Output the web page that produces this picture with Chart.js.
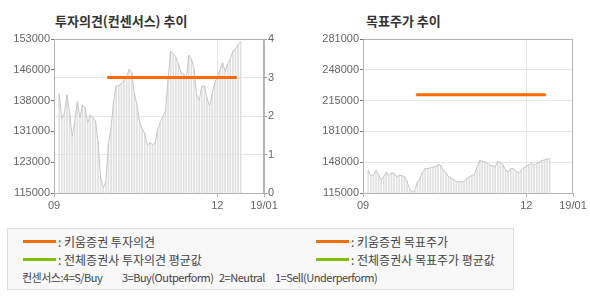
<!DOCTYPE html>
<html>
<head>
<meta charset="utf-8">
<script src="https://cdn.jsdelivr.net/npm/chart.js@4"></script>
<style>
body { margin: 0; background: #fff; width: 590px; height: 300px; position: relative; overflow: hidden; font-family: "Noto Sans CJK KR", sans-serif; }
.title { position: absolute; top: 11px; font-size: 13px; font-weight: bold; color: #333; }
canvas { position: absolute; top: 0; }
.legend { position: absolute; left: 7px; top: 228px; width: 505px; height: 60px; border: 1px solid #ddd; background: #f8f8f8; font-size: 12px; color: #444; }
.item { position: absolute; height: 16px; line-height: 16px; white-space: pre; }
.item i { position: absolute; left: 0; top: 6px; width: 33px; height: 3px; }
.item span { position: absolute; left: 35px; top: 0; }
.note { position: absolute; top: 41px; font-size: 11px; line-height: 14px; white-space: pre; color: #444; letter-spacing: -0.5px; }
</style>
</head>
<body>
<div class="title" style="left:55px">투자의견(컨센서스) 추이</div>
<div class="title" style="left:366px">목표주가 추이</div>
<canvas id="opinionChart" width="290" height="215" style="left:0"></canvas>
<canvas id="targetChart" width="290" height="215" style="left:300px"></canvas>
<div class="legend">
  <div class="item" style="left:15px;top:5px"><i style="background:#f07000"></i><span>: 키움증권 투자의견</span></div>
  <div class="item" style="left:15px;top:23px"><i style="background:#80c000"></i><span>: 전체증권사 투자의견 평균값</span></div>
  <div class="item" style="left:308px;top:5px"><i style="background:#f07000"></i><span>: 키움증권 목표주가</span></div>
  <div class="item" style="left:308px;top:23px"><i style="background:#80c000"></i><span>: 전체증권사 목표주가 평균값</span></div>
  <div class="note" style="left:14px">컨센서스:4=S/Buy</div>
  <div class="note" style="left:114px">3=Buy(Outperform)</div>
  <div class="note" style="left:211px">2=Neutral</div>
  <div class="note" style="left:267px">1=Sell(Underperform)</div>
</div>
<script>
// x axis: trading day index, Sep 2018 .. Jan 2019
var xTickPos = [0, 63, 81];
var xLabels = ['09', '12', '19/01'];
var firstDay = 2;

// 주가 (daily close)
var price = [139400, 133400, 134570, 139200, 134800, 129000, 132500, 137500, 133600, 136700,
    136100, 132300, 134200, 133600, 132770, 127500, 118630, 116300, 117700, 127000,
    131100, 137500, 141400, 141500, 142000, 142800, 143700, 145500, 144700, 139400,
    136800, 132500, 130800, 129700, 126800, 127400, 126900, 127300, 130700, 132400,
    133900, 135200, 143000, 149870, 149300, 148500, 146800, 144850, 144400, 143000,
    149000, 148000, 145600, 139180, 137900, 141300, 141400, 138400, 136500, 139500,
    142100, 143700, 145350, 147100, 145000, 146900, 148000, 150000, 150600, 151500, 152300];

// 키움증권 투자의견 / 목표주가
var opinionSeries = [{ x: 20.5, y: 3 }, { x: 70.5, y: 3 }];
var targetSeries = [{ x: 20.5, y: 221000 }, { x: 70.5, y: 221000 }];

// left chart tick labels
var priceTickVals = [115000, 122600, 130200, 137800, 145400, 153000];
var priceTickLabels = ['115000', '123000', '131000', '138000', '146000', '153000'];
var opinionTicks = [0, 1, 2, 3, 4];

// right chart tick labels
var targetTickVals = [115000, 148200, 181400, 214600, 247800, 281000];
var targetTickLabels = ['115000', '148000', '181000', '215000', '248000', '281000'];

var priceData = price.map(function (v, k) { return { x: firstDay + k, y: v }; });

var tickFont = { family: 'Liberation Sans, Arial, sans-serif', size: 11 };
var tickColor = '#666';

// top / right frame of the plot
var frame = {
    id: 'frame',
    beforeDatasetsDraw: function (chart) {
        var a = chart.chartArea, c = chart.ctx;
        c.save();
        c.strokeStyle = '#b4b4b4';
        c.lineWidth = 1;
        c.beginPath();
        c.moveTo(a.left, a.top + 0.5);
        c.lineTo(a.right, a.top + 0.5);
        c.moveTo(a.right - 0.5, a.top);
        c.lineTo(a.right - 0.5, a.bottom);
        c.stroke();
        c.restore();
    }
};

function xScale() {
    return {
        type: 'linear',
        min: 0,
        max: 81,
        offset: false,
        afterBuildTicks: function (s) { s.ticks = xTickPos.map(function (v) { return { value: v }; }); },
        afterFit: function (s) { s.height = 22; },
        ticks: {
            autoSkip: false, maxRotation: 0, padding: 2, color: tickColor, font: tickFont,
            callback: function (v) { return xLabels[xTickPos.indexOf(v)]; }
        },
        grid: {
            offset: false,
            color: function (ctx) { return ctx.tick && ctx.tick.value === 63 ? '#e2e2e2' : 'rgba(0,0,0,0)'; },
            tickColor: '#b4b4b4',
            tickLength: 4
        },
        border: { color: '#b4b4b4' }
    };
}

function priceSets(axis) {
    return [{
        type: 'line',
        data: priceData,
        yAxisID: axis,
        borderColor: '#c6c6c6',
        borderWidth: 1,
        pointRadius: 0,
        tension: 0,
        order: 2
    }, {
        type: 'bar',
        data: priceData,
        yAxisID: axis,
        backgroundColor: '#e0e0e0',
        barThickness: 1,
        order: 3
    }];
}

document.addEventListener("DOMContentLoaded", function () {
    var ctx = document.getElementById('opinionChart').getContext('2d');
    var chart = new Chart(ctx, {
        type: 'line',
        data: {
            datasets: priceSets('yP').concat([{
                type: 'line',
                data: opinionSeries,
                yAxisID: 'yO',
                borderColor: '#ff6a00',
                borderWidth: 3,
                pointRadius: 0,
                order: 1
            }])
        },
        options: {
            responsive: false,
            animation: false,
            devicePixelRatio: 1,
            layout: { padding: { top: 39, left: 0, right: 0, bottom: 0 } },
            plugins: { legend: { display: false }, tooltip: { enabled: false } },
            scales: {
                x: xScale(),
                yP: {
                    position: 'left',
                    min: 115000,
                    max: 153000,
                    afterBuildTicks: function (s) { s.ticks = priceTickVals.map(function (v) { return { value: v }; }); },
                    afterFit: function (s) { s.width = 54; },
                    ticks: {
                        padding: 1, color: tickColor, font: tickFont,
                        callback: function (v) { return priceTickLabels[priceTickVals.indexOf(v)]; }
                    },
                    grid: { drawOnChartArea: false, tickColor: '#777', tickLength: 3 },
                    border: { color: '#b4b4b4' }
                },
                yO: {
                    position: 'right',
                    min: 0,
                    max: 4,
                    afterBuildTicks: function (s) { s.ticks = opinionTicks.map(function (v) { return { value: v }; }); },
                    afterFit: function (s) { s.width = 26; },
                    ticks: { padding: 1, color: tickColor, font: tickFont },
                    grid: { color: '#e6e6e6', tickColor: '#999', tickLength: 3 },
                    border: { color: '#b4b4b4' }
                }
            }
        },
        plugins: [frame]
    });
});

document.addEventListener("DOMContentLoaded", function () {
    var ctx = document.getElementById('targetChart').getContext('2d');
    var chart = new Chart(ctx, {
        type: 'line',
        data: {
            datasets: priceSets('y').concat([{
                type: 'line',
                data: targetSeries,
                yAxisID: 'y',
                borderColor: '#ff6a00',
                borderWidth: 3,
                pointRadius: 0,
                order: 1
            }])
        },
        options: {
            responsive: false,
            animation: false,
            devicePixelRatio: 1,
            layout: { padding: { top: 39, left: 0, right: 17, bottom: 0 } },
            plugins: { legend: { display: false }, tooltip: { enabled: false } },
            scales: {
                x: xScale(),
                y: {
                    position: 'left',
                    min: 115000,
                    max: 281000,
                    afterBuildTicks: function (s) { s.ticks = targetTickVals.map(function (v) { return { value: v }; }); },
                    afterFit: function (s) { s.width = 63; },
                    ticks: {
                        padding: 1, color: tickColor, font: tickFont,
                        callback: function (v) { return targetTickLabels[targetTickVals.indexOf(v)]; }
                    },
                    grid: { color: '#e6e6e6', tickColor: '#777', tickLength: 3 },
                    border: { color: '#b4b4b4' }
                }
            }
        },
        plugins: [frame]
    });
});
</script>
</body>
</html>
